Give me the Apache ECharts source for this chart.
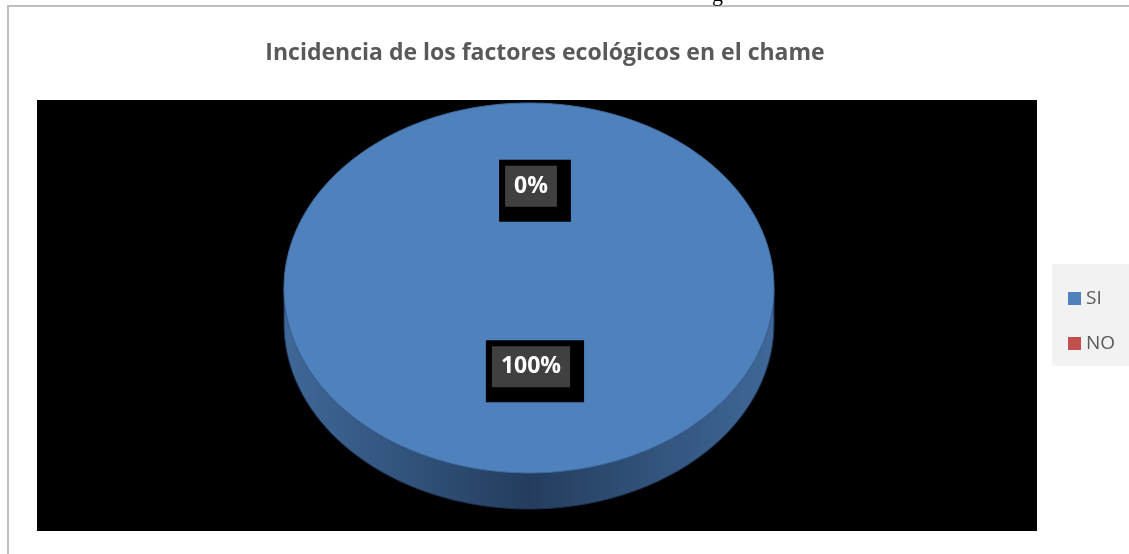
<!DOCTYPE html>
<html>
<head>
<meta charset="utf-8">
<script src="https://cdn.jsdelivr.net/npm/echarts@6/dist/echarts.min.js"></script>
<style>
  html, body { margin: 0; padding: 0; background: #fff; }
  #main { width: 1129px; height: 554px; }
</style>
</head>
<body>
<div id="main"></div>
<script>
// datos del grafico
var categories = ['SI', 'NO'];
var values = [100, 0];
var colors = ['#4F81BD', '#C0504D'];

var total = 0;
for (var i = 0; i < values.length; i++) total += values[i];

// geometria del pastel "3D" (elipse)
var cx = 529, cy = 288, rx = 245, ry = 185, depth = 36;

function pt(t, dy) {
    return [cx + rx * Math.sin(t), cy - ry * Math.cos(t) + (dy || 0)];
}

function sliceAngles(idx) {
    var acc = 0;
    for (var i = 0; i < idx; i++) acc += values[i];
    var a0 = acc / total * Math.PI * 2;
    var a1 = (acc + values[idx]) / total * Math.PI * 2;
    return [a0, a1];
}

function renderSlice(params, api) {
    var idx = params.seriesIndex;
    var ang = sliceAngles(idx);
    var a0 = ang[0], a1 = ang[1];
    var color = api.visual('color');
    var children = [];
    var steps = 160;

    // cara lateral (solo la parte de enfrente)
    var s = Math.max(a0, Math.PI / 2), e = Math.min(a1, Math.PI * 1.5);
    if (e > s) {
        var side = [];
        for (var k = 0; k <= steps; k++) side.push(pt(s + (e - s) * k / steps, 0));
        for (var k = steps; k >= 0; k--) side.push(pt(s + (e - s) * k / steps, depth));
        children.push({
            type: 'polygon',
            shape: { points: side },
            style: {
                fill: new echarts.graphic.LinearGradient(0, 0, 1, 0, [
                    { offset: 0, color: '#3f6898' },
                    { offset: 0.5, color: '#243d5e' },
                    { offset: 1, color: '#3f6898' }
                ]),
                stroke: '#1c3050',
                lineWidth: 1
            }
        });
    }

    // cara superior
    if (a1 > a0) {
        var top = [];
        var full = (a1 - a0) >= Math.PI * 2 - 1e-6;
        if (!full) top.push([cx, cy]);
        for (var k = 0; k <= steps * 2; k++) top.push(pt(a0 + (a1 - a0) * k / (steps * 2), 0));
        children.push({
            type: 'polygon',
            shape: { points: top },
            style: { fill: color, stroke: '#3d6a9e', lineWidth: 1 }
        });
    }

    // etiqueta de porcentaje
    var mid = (a0 + a1) / 2;
    var pct = Math.round(values[idx] / total * 100) + '%';
    children.push({
        type: 'text',
        x: cx + 6 + 0.49 * rx * Math.sin(mid),
        y: cy - 7 - 0.488 * ry * Math.cos(mid),
        z2: 10,
        style: {
            text: '{a|' + pct + '}',
            align: 'center',
            verticalAlign: 'middle',
            backgroundColor: '#000',
            padding: [6, 14, 15, 6],
            rich: {
                a: {
                    fill: '#fff',
                    fontSize: 23,
                    fontWeight: 'bold',
                    fontFamily: 'Open Sans',
                    backgroundColor: '#404040',
                    padding: [0, 9, 0, 9],
                    height: 41,
                    lineHeight: 41
                }
            }
        }
    });

    return { type: 'group', children: children };
}

var series = [];
for (var i = 0; i < categories.length; i++) {
    series.push({
        type: 'custom',
        name: categories[i],
        coordinateSystem: 'none',
        data: [[values[i]]],
        renderItem: renderSlice,
        z: i === 0 ? 2 : 3
    });
}

var myChart = echarts.init(document.getElementById('main'));
myChart.setOption({
    animation: false,
    backgroundColor: '#fff',
    color: colors,
    title: {
        text: 'Incidencia de los factores ecológicos en el chame',
        left: 540,
        textAlign: 'center',
        top: 37,
        textStyle: {
            color: '#595959',
            fontSize: 23,
            fontWeight: 'bold',
            fontFamily: 'Open Sans'
        }
    },
    legend: {
        orient: 'vertical',
        left: 1063,
        top: 284,
        icon: 'rect',
        itemWidth: 13,
        itemHeight: 13,
        itemGap: 26,
        data: categories,
        textStyle: { color: '#595959', fontSize: 19, fontFamily: 'Open Sans' }
    },
    graphic: [
        {
            type: 'rect', z: -10, silent: true,
            shape: { x: 8, y: 6, width: 1140, height: 600 },
            style: { fill: 'none', stroke: '#bfbfbf', lineWidth: 2 }
        },
        {
            type: 'rect', z: -9, silent: true,
            shape: { x: 37, y: 100, width: 1000, height: 431 },
            style: { fill: '#000' }
        },
        {
            type: 'rect', z: -9, silent: true,
            shape: { x: 1052, y: 264, width: 77, height: 102 },
            style: { fill: '#f2f2f2' }
        },
        {
            type: 'text', z: -9, silent: true,
            x: 712, y: -16,
            style: { text: 'g', fontSize: 22, fontFamily: 'Liberation Serif', fill: '#000' }
        }
    ],
    series: series
});
</script>
</body>
</html>
